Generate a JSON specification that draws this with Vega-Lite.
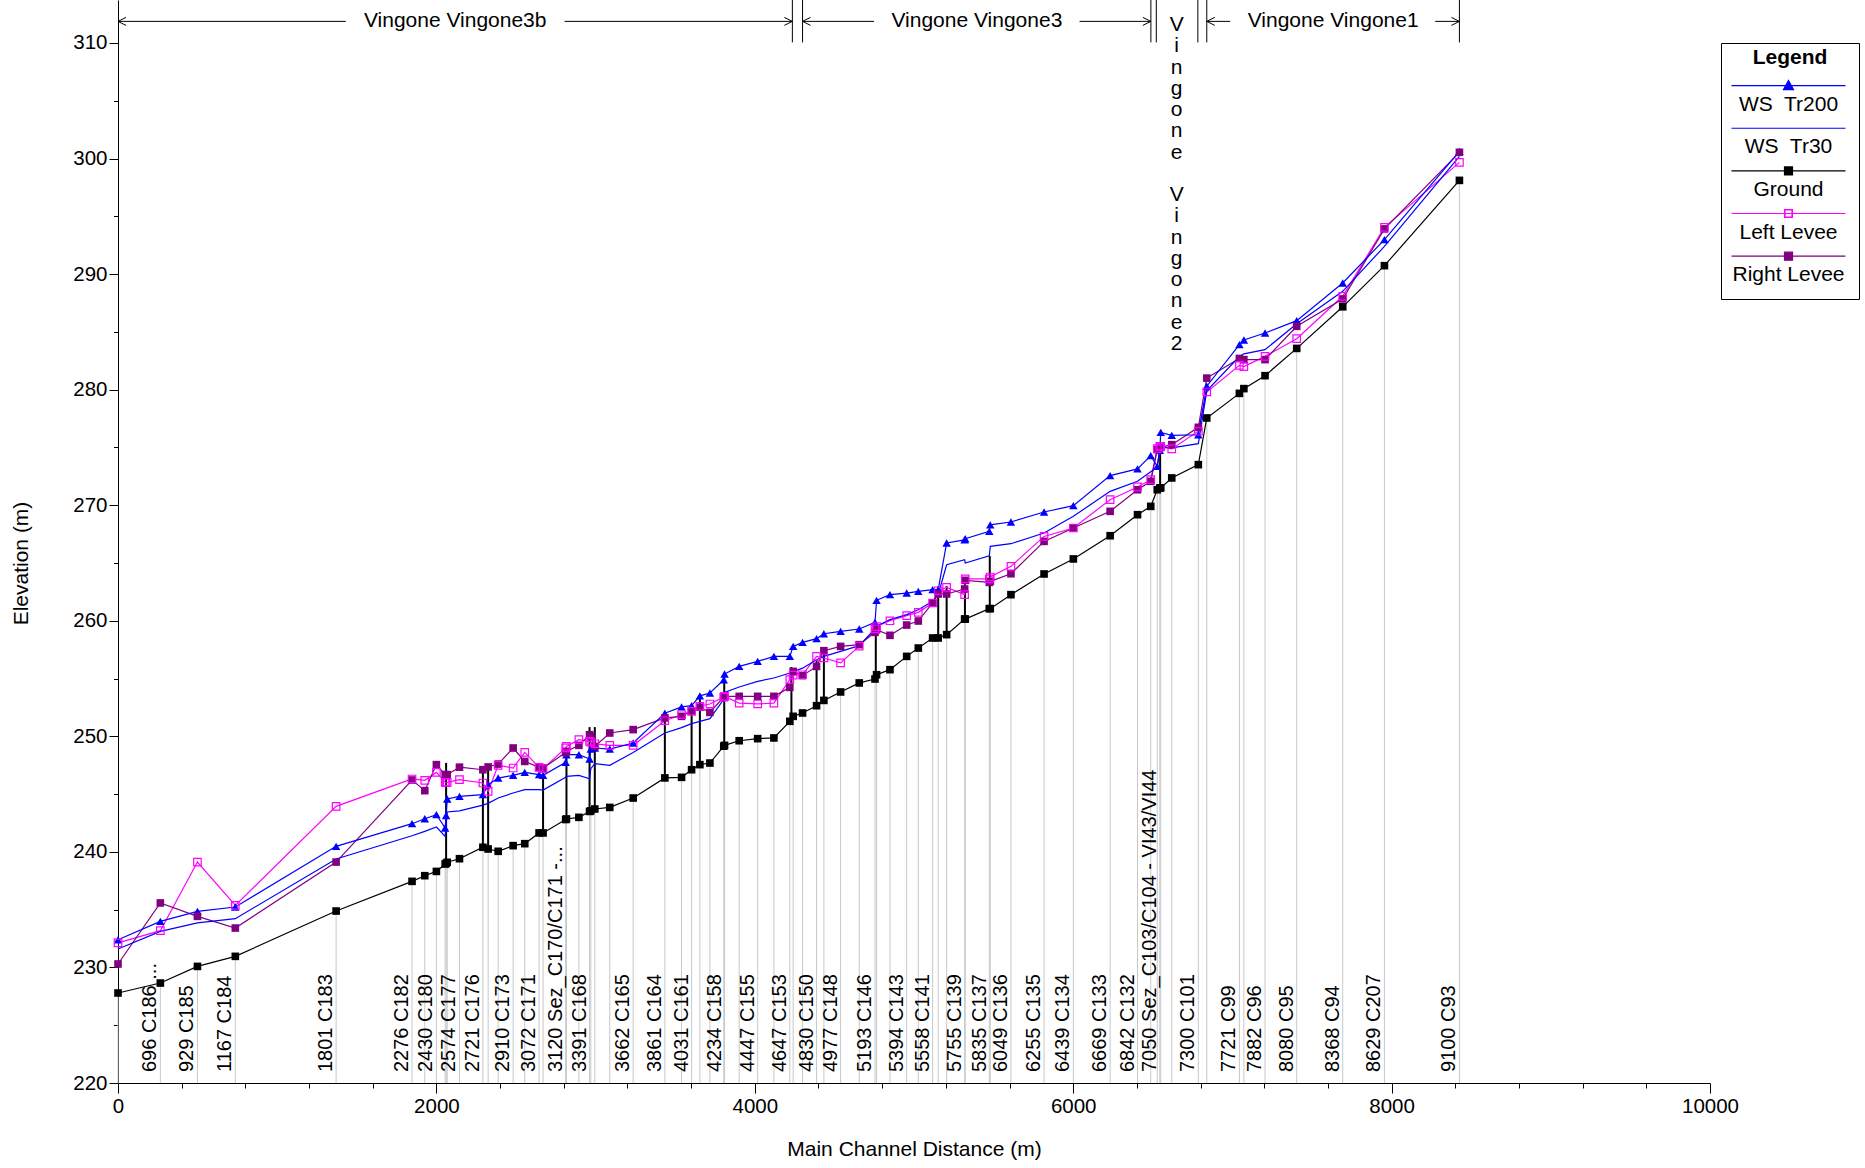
{
  "$schema": "https://vega.github.io/schema/vega-lite/v6.json",
  "width": 1592,
  "height": 1083,
  "autosize": {"type": "none"},
  "padding": {"left": 118, "top": 0, "right": 155, "bottom": 85},
  "background": "white",
  "config": {
    "font": "Liberation Sans",
    "view": {"stroke": null},
    "axis": {"grid": false, "domainColor": "black", "tickColor": "black", "labelColor": "black", "titleColor": "black", "titleFontWeight": "normal", "titleFont": "Liberation Sans", "labelFont": "Liberation Sans", "domainWidth": 1, "tickWidth": 1}
  },
  "datasets": {
    "sections": [
      {"x":0,"base":220,"Ground":227.79,"WS  Tr200":232.40,"WS  Tr30":231.60,"Left Levee":232.12,"Right Levee":230.30,"lab":""},
      {"x":266,"base":220,"Ground":228.65,"WS  Tr200":233.99,"WS  Tr30":233.12,"Left Levee":233.18,"Right Levee":235.58,"lab":"696 C186 ..."},
      {"x":499,"base":220,"Ground":230.09,"WS  Tr200":234.85,"WS  Tr30":233.85,"Left Levee":239.12,"Right Levee":234.42,"lab":"929 C185"},
      {"x":737,"base":220,"Ground":230.96,"WS  Tr200":235.23,"WS  Tr30":234.22,"Left Levee":235.37,"Right Levee":233.41,"lab":"1167 C184"},
      {"x":1370,"base":220,"Ground":234.88,"WS  Tr200":240.48,"WS  Tr30":239.39,"Left Levee":243.94,"Right Levee":239.12,"lab":"1801 C183"},
      {"x":1847,"base":220,"Ground":237.45,"WS  Tr200":242.44,"WS  Tr30":241.40,"Left Levee":246.31,"Right Levee":246.22,"lab":"2276 C182"},
      {"x":1927,"base":220,"Ground":237.94,"WS  Tr200":242.87,"WS  Tr30":241.78,"Left Levee":246.19,"Right Levee":245.30,"lab":""},
      {"x":2000,"base":220,"Ground":238.31,"WS  Tr200":243.22,"WS  Tr30":242.15,"Left Levee":246.88,"Right Levee":247.55,"lab":"2430 C180"},
      {"x":2055,"base":220,"Ground":238.95,"WS  Tr200":242.07,"WS  Tr30":241.34,"Left Levee":246.02,"Right Levee":246.68,"lab":""},
      {"x":2061,"base":220,"Ground":239.00,"WS  Tr200":243.15,"WS  Tr30":242.40,"Left Levee":246.00,"Right Levee":246.68,"lab":""},
      {"x":2068,"base":220,"Ground":239.10,"WS  Tr200":244.58,"WS  Tr30":243.45,"Left Levee":246.02,"Right Levee":246.68,"lab":""},
      {"x":2145,"base":220,"Ground":239.41,"WS  Tr200":244.80,"WS  Tr30":243.55,"Left Levee":246.25,"Right Levee":247.33,"lab":"2574 C177"},
      {"x":2292,"base":220,"Ground":240.40,"WS  Tr200":244.95,"WS  Tr30":244.05,"Left Levee":245.96,"Right Levee":247.11,"lab":"2721 C176"},
      {"x":2325,"base":220,"Ground":240.25,"WS  Tr200":245.82,"WS  Tr30":244.20,"Left Levee":245.24,"Right Levee":247.35,"lab":""},
      {"x":2388,"base":220,"Ground":240.05,"WS  Tr200":246.39,"WS  Tr30":244.66,"Left Levee":247.49,"Right Levee":247.60,"lab":""},
      {"x":2482,"base":220,"Ground":240.54,"WS  Tr200":246.62,"WS  Tr30":245.10,"Left Levee":247.26,"Right Levee":248.99,"lab":"2910 C173"},
      {"x":2555,"base":220,"Ground":240.71,"WS  Tr200":246.88,"WS  Tr30":245.38,"Left Levee":248.61,"Right Levee":247.83,"lab":""},
      {"x":2645,"base":220,"Ground":241.64,"WS  Tr200":246.68,"WS  Tr30":245.38,"Left Levee":247.31,"Right Levee":247.31,"lab":"3072 C171"},
      {"x":2670,"base":220,"Ground":241.64,"WS  Tr200":246.62,"WS  Tr30":245.35,"Left Levee":247.20,"Right Levee":247.25,"lab":""},
      {"x":2812,"base":220,"Ground":242.80,"WS  Tr200":247.75,"WS  Tr30":246.45,"Left Levee":249.00,"Right Levee":248.60,"lab":""},
      {"x":2817,"base":220,"Ground":242.85,"WS  Tr200":248.41,"WS  Tr30":246.54,"Left Levee":249.13,"Right Levee":248.70,"lab":"3120 Sez_C170/C171 -..."},
      {"x":2895,"base":220,"Ground":242.99,"WS  Tr200":248.41,"WS  Tr30":246.62,"Left Levee":249.71,"Right Levee":249.22,"lab":""},
      {"x":2962,"base":220,"Ground":243.50,"WS  Tr200":248.04,"WS  Tr30":246.33,"Left Levee":249.56,"Right Levee":250.14,"lab":"3391 C168"},
      {"x":2970,"base":220,"Ground":243.55,"WS  Tr200":248.90,"WS  Tr30":247.20,"Left Levee":249.50,"Right Levee":250.00,"lab":""},
      {"x":2995,"base":220,"Ground":243.71,"WS  Tr200":248.99,"WS  Tr30":247.63,"Left Levee":249.36,"Right Levee":249.13,"lab":""},
      {"x":3089,"base":220,"Ground":243.85,"WS  Tr200":248.90,"WS  Tr30":247.49,"Left Levee":249.22,"Right Levee":250.29,"lab":""},
      {"x":3236,"base":220,"Ground":244.66,"WS  Tr200":249.42,"WS  Tr30":248.60,"Left Levee":249.22,"Right Levee":250.58,"lab":"3662 C165"},
      {"x":3435,"base":220,"Ground":246.40,"WS  Tr200":252.00,"WS  Tr30":250.29,"Left Levee":251.35,"Right Levee":251.59,"lab":"3861 C164"},
      {"x":3540,"base":220,"Ground":246.45,"WS  Tr200":252.55,"WS  Tr30":250.75,"Left Levee":251.87,"Right Levee":251.73,"lab":""},
      {"x":3603,"base":220,"Ground":247.11,"WS  Tr200":252.65,"WS  Tr30":251.10,"Left Levee":252.16,"Right Levee":252.20,"lab":"4031 C161"},
      {"x":3655,"base":220,"Ground":247.55,"WS  Tr200":253.50,"WS  Tr30":251.30,"Left Levee":252.60,"Right Levee":252.52,"lab":""},
      {"x":3718,"base":220,"Ground":247.69,"WS  Tr200":253.75,"WS  Tr30":251.53,"Left Levee":252.80,"Right Levee":252.07,"lab":""},
      {"x":3805,"base":220,"Ground":249.15,"WS  Tr200":254.90,"WS  Tr30":253.20,"Left Levee":253.40,"Right Levee":253.40,"lab":""},
      {"x":3810,"base":220,"Ground":249.22,"WS  Tr200":255.39,"WS  Tr30":253.80,"Left Levee":253.46,"Right Levee":253.46,"lab":"4234 C158"},
      {"x":3902,"base":220,"Ground":249.62,"WS  Tr200":256.05,"WS  Tr30":254.27,"Left Levee":252.88,"Right Levee":253.46,"lab":""},
      {"x":4018,"base":220,"Ground":249.80,"WS  Tr200":256.49,"WS  Tr30":254.76,"Left Levee":252.80,"Right Levee":253.46,"lab":"4447 C155"},
      {"x":4120,"base":220,"Ground":249.86,"WS  Tr200":256.92,"WS  Tr30":255.05,"Left Levee":252.88,"Right Levee":253.46,"lab":""},
      {"x":4220,"base":220,"Ground":251.30,"WS  Tr200":256.92,"WS  Tr30":255.48,"Left Levee":254.90,"Right Levee":254.24,"lab":"4647 C153"},
      {"x":4241,"base":220,"Ground":251.73,"WS  Tr200":257.78,"WS  Tr30":255.60,"Left Levee":255.30,"Right Levee":255.62,"lab":""},
      {"x":4300,"base":220,"Ground":252.02,"WS  Tr200":258.13,"WS  Tr30":255.90,"Left Levee":255.33,"Right Levee":255.25,"lab":""},
      {"x":4388,"base":220,"Ground":252.65,"WS  Tr200":258.45,"WS  Tr30":256.63,"Left Levee":256.92,"Right Levee":256.05,"lab":"4830 C150"},
      {"x":4434,"base":220,"Ground":253.11,"WS  Tr200":258.88,"WS  Tr30":256.92,"Left Levee":256.78,"Right Levee":257.41,"lab":""},
      {"x":4539,"base":220,"Ground":253.84,"WS  Tr200":259.08,"WS  Tr30":257.35,"Left Levee":256.35,"Right Levee":257.78,"lab":"4977 C148"},
      {"x":4656,"base":220,"Ground":254.62,"WS  Tr200":259.29,"WS  Tr30":257.85,"Left Levee":257.80,"Right Levee":257.93,"lab":""},
      {"x":4755,"base":220,"Ground":254.96,"WS  Tr200":259.86,"WS  Tr30":259.30,"Left Levee":259.30,"Right Levee":259.00,"lab":"5193 C146"},
      {"x":4765,"base":220,"Ground":255.33,"WS  Tr200":261.77,"WS  Tr30":259.52,"Left Levee":259.50,"Right Levee":259.23,"lab":""},
      {"x":4849,"base":220,"Ground":255.77,"WS  Tr200":262.26,"WS  Tr30":260.10,"Left Levee":260.00,"Right Levee":258.74,"lab":""},
      {"x":4954,"base":220,"Ground":256.92,"WS  Tr200":262.40,"WS  Tr30":260.53,"Left Levee":260.44,"Right Levee":259.63,"lab":"5394 C143"},
      {"x":5027,"base":220,"Ground":257.64,"WS  Tr200":262.55,"WS  Tr30":260.96,"Left Levee":260.73,"Right Levee":259.98,"lab":""},
      {"x":5117,"base":220,"Ground":258.51,"WS  Tr200":262.69,"WS  Tr30":261.68,"Left Levee":261.54,"Right Levee":261.54,"lab":"5558 C141"},
      {"x":5152,"base":220,"Ground":258.51,"WS  Tr200":262.69,"WS  Tr30":262.26,"Left Levee":262.60,"Right Levee":262.32,"lab":""},
      {"x":5205,"base":220,"Ground":258.80,"WS  Tr200":266.73,"WS  Tr30":264.85,"Left Levee":262.89,"Right Levee":262.32,"lab":""},
      {"x":5318,"base":220,"Ground":260.15,"WS  Tr200":267.00,"WS  Tr30":265.29,"Left Levee":262.26,"Right Levee":262.75,"lab":""},
      {"x":5322,"base":220,"Ground":260.15,"WS  Tr200":267.10,"WS  Tr30":265.00,"Left Levee":263.62,"Right Levee":263.50,"lab":"5755 C139"},
      {"x":5473,"base":220,"Ground":261.05,"WS  Tr200":267.74,"WS  Tr30":265.63,"Left Levee":263.62,"Right Levee":263.32,"lab":""},
      {"x":5479,"base":220,"Ground":261.05,"WS  Tr200":268.30,"WS  Tr30":266.44,"Left Levee":263.79,"Right Levee":263.41,"lab":"5835 C137"},
      {"x":5609,"base":220,"Ground":262.26,"WS  Tr200":268.55,"WS  Tr30":266.67,"Left Levee":264.71,"Right Levee":264.07,"lab":"6049 C136"},
      {"x":5817,"base":220,"Ground":264.05,"WS  Tr200":269.41,"WS  Tr30":267.60,"Left Levee":267.30,"Right Levee":266.87,"lab":"6255 C135"},
      {"x":6001,"base":220,"Ground":265.35,"WS  Tr200":269.96,"WS  Tr30":269.04,"Left Levee":268.03,"Right Levee":268.03,"lab":"6439 C134"},
      {"x":6232,"base":220,"Ground":267.36,"WS  Tr200":272.56,"WS  Tr30":271.20,"Left Levee":270.48,"Right Levee":269.47,"lab":"6669 C133"},
      {"x":6404,"base":220,"Ground":269.18,"WS  Tr200":273.14,"WS  Tr30":272.07,"Left Levee":271.58,"Right Levee":271.34,"lab":"6842 C132"},
      {"x":6487,"base":220,"Ground":269.90,"WS  Tr200":274.29,"WS  Tr30":272.90,"Left Levee":272.21,"Right Levee":272.07,"lab":""},
      {"x":6528,"base":220,"Ground":271.34,"WS  Tr200":273.36,"WS  Tr30":273.30,"Left Levee":274.90,"Right Levee":274.81,"lab":""},
      {"x":6544,"base":220,"Ground":271.49,"WS  Tr200":274.75,"WS  Tr30":274.96,"Left Levee":275.09,"Right Levee":275.00,"lab":"7050 Sez_C103/C104 - VI43/VI44"},
      {"x":6550,"base":220,"Ground":271.50,"WS  Tr200":276.30,"WS  Tr30":275.00,"Left Levee":275.09,"Right Levee":275.00,"lab":""},
      {"x":6619,"base":220,"Ground":272.36,"WS  Tr200":276.05,"WS  Tr30":274.96,"Left Levee":274.87,"Right Levee":275.24,"lab":""},
      {"x":6786,"base":220,"Ground":273.51,"WS  Tr200":276.10,"WS  Tr30":275.33,"Left Levee":276.40,"Right Levee":276.74,"lab":"7300 C101"},
      {"x":6839,"base":220,"Ground":277.55,"WS  Tr200":280.30,"WS  Tr30":279.90,"Left Levee":279.80,"Right Levee":281.00,"lab":""},
      {"x":7044,"base":220,"Ground":279.68,"WS  Tr200":283.90,"WS  Tr30":282.87,"Left Levee":282.10,"Right Levee":282.70,"lab":"7721 C99"},
      {"x":7072,"base":220,"Ground":280.09,"WS  Tr200":284.30,"WS  Tr30":283.10,"Left Levee":282.00,"Right Levee":282.60,"lab":""},
      {"x":7205,"base":220,"Ground":281.21,"WS  Tr200":284.90,"WS  Tr30":283.46,"Left Levee":282.88,"Right Levee":282.60,"lab":"7882 C96"},
      {"x":7404,"base":220,"Ground":283.57,"WS  Tr200":285.97,"WS  Tr30":285.71,"Left Levee":284.41,"Right Levee":285.48,"lab":"8080 C95"},
      {"x":7693,"base":220,"Ground":287.17,"WS  Tr200":289.23,"WS  Tr30":288.51,"Left Levee":288.08,"Right Levee":287.85,"lab":"8368 C94"},
      {"x":7955,"base":220,"Ground":290.73,"WS  Tr200":292.98,"WS  Tr30":292.40,"Left Levee":294.05,"Right Levee":293.91,"lab":"8629 C207"},
      {"x":8426,"base":220,"Ground":298.11,"WS  Tr200":300.62,"WS  Tr30":300.19,"Left Levee":299.67,"Right Levee":300.54,"lab":"9100 C93"}
    ],
    "structs": [
      {"x":2061,"lo":239.0,"hi":247.7},
      {"x":2292,"lo":240.4,"hi":247.3},
      {"x":2325,"lo":240.25,"hi":247.3},
      {"x":2670,"lo":241.64,"hi":246.8},
      {"x":2817,"lo":242.85,"hi":248.8},
      {"x":2962,"lo":243.5,"hi":250.8},
      {"x":2995,"lo":243.71,"hi":250.8},
      {"x":3435,"lo":246.4,"hi":251.7},
      {"x":3603,"lo":247.11,"hi":252.7},
      {"x":3655,"lo":247.55,"hi":253.4},
      {"x":3808,"lo":249.2,"hi":255.3},
      {"x":4230,"lo":251.5,"hi":256.0},
      {"x":4388,"lo":252.65,"hi":256.6},
      {"x":4434,"lo":253.11,"hi":257.4},
      {"x":4760,"lo":255.2,"hi":259.9},
      {"x":5152,"lo":258.51,"hi":263.0},
      {"x":5205,"lo":258.8,"hi":263.0},
      {"x":5320,"lo":260.15,"hi":263.6},
      {"x":5476,"lo":261.05,"hi":265.6},
      {"x":6546,"lo":271.49,"hi":275.1}
    ],
    "bars": [
      {"x":4236,"lo":310.05,"hi":313.72},{"x":4300,"lo":310.05,"hi":313.72},
      {"x":6488,"lo":310.05,"hi":313.72},{"x":6522,"lo":310.05,"hi":313.72},
      {"x":6783,"lo":310.05,"hi":313.72},{"x":6839,"lo":310.05,"hi":313.72},
      {"x":8426,"lo":310.05,"hi":313.72}
    ],
    "segs": [
      {"x":0,"xe":1431,"y":311.87},{"x":2805,"xe":4236,"y":311.87},
      {"x":4300,"xe":4749,"y":311.87},{"x":6040,"xe":6488,"y":311.87},
      {"x":6839,"xe":6986,"y":311.87},{"x":8274,"xe":8426,"y":311.87}
    ],
    "headsL": [{"x":0,"y":311.87},{"x":4300,"y":311.87},{"x":6839,"y":311.87}],
    "headsR": [{"x":4236,"y":311.87},{"x":6488,"y":311.87},{"x":8426,"y":311.87}],
    "reaches": [
      {"x":2118,"y":311.87,"t":"Vingone Vingone3b"},
      {"x":5395,"y":311.87,"t":"Vingone Vingone3"},
      {"x":7633,"y":311.87,"t":"Vingone Vingone1"}
    ],
    "vreach": [
      {"x":6650,"y":312.51,"t":"V\ni\nn\ng\no\nn\ne"},
      {"x":6650,"y":297.80,"t":"V\ni\nn\ng\no\nn\ne\n2"}
    ]
  },
  "layer": [
    {
      "data": {"name": "sections"},
      "mark": {"type": "rule", "color": "#c8c8c8", "strokeWidth": 1},
      "encoding": {
        "x": {"field": "x", "type": "quantitative"},
        "y": {"field": "base", "type": "quantitative"},
        "y2": {"field": "Ground"}
      }
    },
    {
      "data": {"name": "sections"},
      "transform": [{"filter": "datum.lab !== ''"}],
      "mark": {"type": "text", "angle": 270, "align": "left", "baseline": "bottom", "dx": 11, "fontSize": 20, "font": "Liberation Sans", "color": "black"},
      "encoding": {
        "x": {"field": "x", "type": "quantitative"},
        "y": {"field": "base", "type": "quantitative"},
        "text": {"field": "lab", "type": "nominal"}
      }
    },
    {
      "data": {"name": "structs"},
      "mark": {"type": "rule", "color": "black", "strokeWidth": 2},
      "encoding": {
        "x": {"field": "x", "type": "quantitative"},
        "y": {"field": "lo", "type": "quantitative"},
        "y2": {"field": "hi"}
      }
    },
    {
      "data": {"name": "sections"},
      "transform": [
        {"fold": ["Left Levee", "Right Levee", "WS  Tr30", "WS  Tr200", "Ground"], "as": ["s", "v"]},
        {"filter": "isValid(datum.v)"}
      ],
      "mark": {"type": "line", "strokeWidth": 1.2},
      "encoding": {
        "x": {
          "field": "x", "type": "quantitative",
          "scale": {"domain": [0, 10000], "nice": false, "zero": false},
          "axis": {
            "title": "Main Channel Distance (m)",
            "values": [0,400,800,1200,1600,2000,2400,2800,3200,3600,4000,4400,4800,5200,5600,6000,6400,6800,7200,7600,8000,8400,8800,9200,9600,10000],
            "format": "d",
            "labelExpr": "datum.value % 2000 === 0 ? datum.label : ''",
            "tickSize": {"condition": {"test": "datum.value % 2000 === 0", "value": 10}, "value": 5},
            "labelPadding": 3,
            "labelFontSize": 20.5,
            "labelFlush": false,
            "labelOverlap": false,
            "titleFontSize": 21,
            "titleY": 66,
            "titleBaseline": "middle"
          }
        },
        "y": {
          "field": "v", "type": "quantitative",
          "scale": {"domain": [220, 313.72], "nice": false, "zero": false},
          "axis": {
            "title": "Elevation (m)",
            "values": [220,225,230,235,240,245,250,255,260,265,270,275,280,285,290,295,300,305,310],
            "labelExpr": "datum.value % 10 === 0 ? datum.label : ''",
            "tickSize": {"condition": {"test": "datum.value % 10 === 0", "value": 9}, "value": 4.5},
            "labelPadding": 2,
            "labelFontSize": 20.5,
            "labelFlush": false,
            "labelOverlap": false,
            "titleFontSize": 21,
            "titleX": -97,
            "titleY": 563,
            "titleAngle": 270,
            "titleAlign": "center",
            "titleBaseline": "middle"
          }
        },
        "color": {
          "field": "s", "type": "nominal",
          "scale": {
            "domain": ["WS  Tr200", "WS  Tr30", "Ground", "Left Levee", "Right Levee"],
            "range": ["#0000ff", "#0000ff", "#000000", "#ff00ff", "#800080"]
          },
          "legend": {
            "title": "Legend",
            "orient": "none",
            "legendX": 1603,
            "legendY": 43,
            "padding": 0,
            "strokeColor": "black",
            "fillColor": "white",
            "titleFontSize": 21,
            "titleFontWeight": "bold",
            "titleColor": "black",
            "titleAnchor": "middle",
            "titleAlign": "center",
            "titlePadding": 21.6,
            "labelFontSize": 21,
            "labelColor": "black",
            "labelLimit": 300,
            "labelExpr": "replace(datum.label, '  ', '\u00a0 ')",
            "symbolSize": 4,
            "symbolStrokeWidth": 1.2,
            "rowPadding": -6.36,
            "encode": {
              "title": {"update": {"dy": {"value": 4}}},
              "symbols": {
                "update": {
                  "x": {"value": 67.5},
                  "y": {"value": 0},
                  "opacity": {"value": 1},
                  "shape": {"signal": "'M-67.5,-12.7L-67.5,-12.7M67.5,30L67.5,30M-57,0L57,0' + (datum.value === 'WS  Tr200' ? 'M-5,4L0,-5L5,4Z' : datum.value === 'WS  Tr30' ? '' : datum.value === 'Right Levee' ? 'M-4,-4L4,-4L4,4L-4,4ZM0,40L0,40' : datum.value === 'Left Levee' ? 'M-4,-4L4,-4L4,4L-4,4ZM-3.5,-3.5L-3.5,3.5L3.5,3.5L3.5,-3.5Z' : 'M-4,-4L4,-4L4,4L-4,4Z')"},
                  "fill": {"signal": "datum.value === 'WS  Tr200' ? '#0000ff' : datum.value === 'Ground' ? '#000000' : datum.value === 'Right Levee' ? '#800080' : 'transparent'"},
                  "stroke": {"signal": "datum.value === 'Left Levee' ? '#ff00ff' : datum.value === 'Right Levee' ? '#800080' : datum.value === 'Ground' ? '#000000' : '#0000ff'"}
                }
              },
              "labels": {
                "update": {
                  "x": {"value": 67.5},
                  "y": {"value": 19},
                  "align": {"value": "center"},
                  "baseline": {"value": "middle"}
                }
              }
            }
          }
        }
      }
    },
    {
      "data": {"name": "sections"},
      "transform": [
        {"fold": ["WS  Tr200"], "as": ["s", "v"]},
        {"filter": "isValid(datum.v)"}
      ],
      "mark": {"type": "point", "shape": "triangle-up", "filled": true, "size": 72, "opacity": 1, "strokeWidth": 0},
      "encoding": {
        "x": {"field": "x", "type": "quantitative"},
        "y": {"field": "v", "type": "quantitative"},
        "color": {"field": "s", "type": "nominal", "legend": null}
      }
    },
    {
      "data": {"name": "sections"},
      "transform": [
        {"fold": ["Right Levee", "Ground"], "as": ["s", "v"]},
        {"filter": "isValid(datum.v)"}
      ],
      "mark": {"type": "point", "shape": "square", "filled": true, "size": 58, "opacity": 1, "strokeWidth": 0},
      "encoding": {
        "x": {"field": "x", "type": "quantitative"},
        "y": {"field": "v", "type": "quantitative"},
        "color": {"field": "s", "type": "nominal", "legend": null}
      }
    },
    {
      "data": {"name": "sections"},
      "transform": [
        {"fold": ["Left Levee"], "as": ["s", "v"]},
        {"filter": "isValid(datum.v)"}
      ],
      "mark": {"type": "point", "shape": "square", "filled": false, "size": 56, "strokeWidth": 1.2, "opacity": 1},
      "encoding": {
        "x": {"field": "x", "type": "quantitative"},
        "y": {"field": "v", "type": "quantitative"},
        "color": {"field": "s", "type": "nominal", "legend": null}
      }
    },
    {
      "data": {"name": "bars"},
      "mark": {"type": "rule", "color": "black", "strokeWidth": 1},
      "encoding": {
        "x": {"field": "x", "type": "quantitative"},
        "y": {"field": "lo", "type": "quantitative"},
        "y2": {"field": "hi"}
      }
    },
    {
      "data": {"name": "segs"},
      "mark": {"type": "rule", "color": "black", "strokeWidth": 1},
      "encoding": {
        "x": {"field": "x", "type": "quantitative"},
        "x2": {"field": "xe"},
        "y": {"field": "y", "type": "quantitative"}
      }
    },
    {
      "data": {"name": "headsL"},
      "mark": {"type": "point", "filled": false, "color": "black", "strokeWidth": 1, "size": 64, "opacity": 1, "shape": "M2,-1L0,0L2,1"},
      "encoding": {
        "x": {"field": "x", "type": "quantitative"},
        "y": {"field": "y", "type": "quantitative"}
      }
    },
    {
      "data": {"name": "headsR"},
      "mark": {"type": "point", "filled": false, "color": "black", "strokeWidth": 1, "size": 64, "opacity": 1, "shape": "M-2,-1L0,0L-2,1"},
      "encoding": {
        "x": {"field": "x", "type": "quantitative"},
        "y": {"field": "y", "type": "quantitative"}
      }
    },
    {
      "data": {"name": "reaches"},
      "mark": {"type": "text", "fontSize": 21, "font": "Liberation Sans", "align": "center", "baseline": "middle", "color": "black"},
      "encoding": {
        "x": {"field": "x", "type": "quantitative"},
        "y": {"field": "y", "type": "quantitative"},
        "text": {"field": "t", "type": "nominal"}
      }
    },
    {
      "data": {"name": "vreach"},
      "mark": {"type": "text", "fontSize": 21, "font": "Liberation Sans", "align": "center", "baseline": "top", "lineBreak": "\n", "lineHeight": 21.3, "color": "black"},
      "encoding": {
        "x": {"field": "x", "type": "quantitative"},
        "y": {"field": "y", "type": "quantitative"},
        "text": {"field": "t", "type": "nominal"}
      }
    }
  ]
}
